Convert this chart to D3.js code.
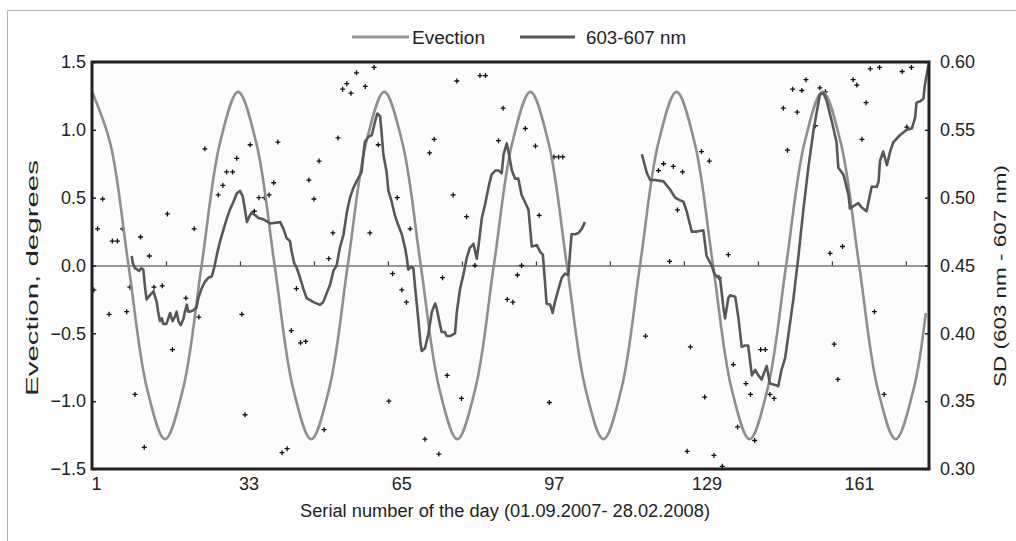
<!DOCTYPE html>
<html>
<head>
<meta charset="utf-8">
<script src="https://cdn.jsdelivr.net/npm/d3@7"></script>
<style>
  body { margin: 0; background: #fff; }
  svg { display: block; font-family: "Liberation Sans", Arial, sans-serif; }
</style>
</head>
<body>
<div id="chart"></div>
<script>
// Evection (left axis, degrees)
const evDay = [1, 4.95, 8.9, 12.85, 16.8, 20.75, 24.7, 28.65, 32.6, 36.55, 40.5, 44.45, 48.4, 52.35,
  56.3, 60.25, 64.2, 68.15, 72.1, 76.05, 80, 83.95, 87.9, 91.85, 95.8, 99.75, 103.7, 107.65,
  111.6, 115.55, 119.5, 123.45, 127.4, 131.35, 135.3, 139.25, 143.2, 147.15, 151.1, 155.05,
  159, 162.95, 166.9, 170.85, 174.8, 178.75, 181.3];
const evVal = [1.28, 0.9, 0, -0.9, -1.28, -0.9, 0, 0.9, 1.28, 0.9, 0, -0.9, -1.28, -0.9,
  0, 0.9, 1.28, 0.9, 0, -0.9, -1.28, -0.9, 0, 0.9, 1.28, 0.9, 0, -0.9,
  -1.28, -0.9, 0, 0.9, 1.28, 0.9, 0, -0.9, -1.28, -0.9, 0, 0.9,
  1.28, 0.9, 0, -0.9, -1.28, -0.9, -0.35];

// 603-607 nm SD running line (right axis), null = gap
const sdDay = [9.6, 9.8, 10.3, 11.2, 11.7, 12.1, 12.5, 12.8, 13.5, 14.3, 15.0, 15.3, 15.7, 16.1, 16.4, 17.1,
  17.9, 18.4, 18.9, 19.3, 19.7, 20.2, 20.8, 21.1, 21.5, 21.8, 22.2, 22.9, 23.6, 24.0, 24.7, 25.4,
  26.2, 26.9, 27.4, 28.0, 28.7, 29.4, 30.1, 30.8, 31.6, 32.3, 33.0, 33.6, 33.9, 34.5, 35.0, 35.5,
  36.3, 37.0, 38.1, 39.5, 41.7, 42.4, 43.1, 43.8, 44.2, 44.7, 45.3, 45.8, 46.7, 47.4, 48.9, 50.3,
  51.0, 51.8, 52.5, 53.2, 53.9, 54.6, 55.4, 56.1, 56.8, 57.5, 58.2, 59.0, 59.3, 59.7, 60.0, 60.8,
  61.5, 62.2, 62.7, 63.3, 63.6, 64.0, 64.7, 65.1, 65.8, 66.5, 67.2, 68.0, 68.7, 69.1, 69.4, 70.1,
  70.5, 70.9, 71.6, 72.0, 72.3, 73.0, 73.7, 74.5, 75.2, 75.5, 76.1, 76.6, 77.3, 77.7, 78.4, 79.5,
  79.9, 80.6, 81.3, 82.0, 82.7, 83.5, 84.2, 84.6, 85.3, 86.0, 86.7, 87.4, 88.2, 88.9, 89.6, 90.0,
  90.7, 91.0, 91.8, 92.5, 93.2, 93.9, 94.6, 95.4, 96.1, 97.2, 97.9, 98.5, 99.0, 99.3, 100.1, 100.6,
  101.1, 101.9, 102.6, 103.3, 104.0, 104.7, 105.5, 106.2, 106.9, 107.6,
  null,
  119.9, 121.0, 121.7, 122.8, 124.6, 125.3, 126.0, 127.1, 128.2, 128.9, 129.6, 130.7, 131.8, 133.2,
  133.9, 135.0, 135.7, 136.8, 137.5, 137.9, 138.6, 139.0, 140.1, 140.8, 141.5, 142.2, 142.9, 143.7,
  144.4, 145.1, 145.8, 146.9, 147.6, 148.7, 149.4, 150.1, 150.9, 151.6, 152.7, 153.8, 154.8, 155.9,
  157.0, 158.4, 159.2, 159.9, 161.0, 162.0, 162.4, 163.5, 164.6, 164.9, 166.7, 167.4, 168.5, 169.6,
  170.7, 171.1, 171.4, 172.1, 172.9, 173.6, 174.3, 175.7, 177.2, 178.3, 179.0, 179.3, 180.1, 180.8,
  181.1, 181.9];
const sdVal = [.457, .452, .448, .446, .448, .447, .433, .425, .428, .431, .423, .416, .409, .411, .407, .407,
  .415, .409, .412, .416, .409, .406, .411, .416, .421, .416, .416, .417, .419, .426, .433, .438,
  .441, .442, .448, .458, .468, .476, .484, .491, .497, .503, .505, .501, .495, .482, .486, .489,
  .487, .485, .484, .481, .482, .477, .470, .468, .460, .452, .448, .443, .433, .426, .423, .421,
  .423, .430, .436, .446, .450, .463, .473, .489, .500, .507, .512, .517, .519, .532, .541, .545,
  .546, .556, .562, .560, .549, .532, .519, .505, .497, .487, .480, .473, .463, .455, .447, .449,
  .448, .433, .409, .394, .387, .389, .399, .416, .422, .419, .409, .401, .401, .398, .398, .400,
  .416, .433, .443, .455, .463, .466, .455, .465, .485, .495, .507, .517, .520, .520, .518, .532,
  .540, .535, .520, .514, .514, .502, .497, .491, .464, .465, .460, .458, .436, .422, .421, .415,
  .423, .433, .441, .444, .443, .473, .473, .474, .477, .482,
  null,
  .532, .518, .513, .513, .512, .509, .506, .500, .498, .497, .490, .475, .475, .476,
  .457, .450, .443, .441, .420, .411, .426, .428, .427, .411, .390, .391, .391, .369,
  .373, .369, .366, .376, .363, .362, .361, .373, .382, .399, .426, .458, .490, .522,
  .549, .576, .577, .571, .556, .541, .522, .517, .502, .492, .496, .493, .490, .508,
  .508, .512, .527, .534, .524, .534, .541, .546, .550, .551, .559, .570, .571, .573,
  .583, .598];

// daily SD points (crosses, right axis)
const ptDay = [1.4, 2.2, 3.3, 4.7, 5.4, 6.5, 7.6, 8.5, 9.2, 10.3, 11.5, 12.3, 13.4, 14.4, 16.2, 17.3,
  18.4, 21.3, 23.1, 24.1, 25.4, 28.3, 29.3, 30.1, 31.4, 32.3, 33.4, 34.1, 35.2, 36.1, 37.1, 38.3,
  39.3, 40.3, 41.2, 42.1, 43.2, 44.1, 45.2, 46.1, 47.2, 47.9, 49.0, 50.1, 51.2, 52.2, 53.1, 54.2,
  55.2, 56.1, 57.0, 58.2, 60.1, 61.1, 62.0, 62.9, 65.2, 66.0, 67.0, 68.0, 69.0, 69.8, 73.0, 74.0,
  75.0, 76.0, 76.8, 77.8, 79.1, 79.9, 80.9, 82.0, 83.8, 84.9, 86.1, 88.9, 89.9, 90.8, 92.0, 93.0,
  93.9, 94.7, 96.9, 97.7, 99.9, 100.9, 101.9, 102.8, 120.7, 123.5, 124.6, 125.9, 126.7, 127.6, 128.7, 129.7,
  130.4, 132.8, 133.5, 134.5, 135.5, 136.6, 137.3, 138.6, 139.7, 140.6, 142.4, 143.4, 144.3, 145.6, 146.6, 147.6,
  148.5, 150.5, 151.4, 152.5, 153.5, 154.5, 155.4, 157.4, 158.4, 159.6, 160.6, 161.5, 162.3, 163.3, 165.6, 166.4,
  167.5, 168.4, 169.3, 170.2, 171.3, 172.3, 176.2, 177.2, 178.2];
const ptVal = [.432, .477, .499, .414, .468, .468, .477, .416, .434, .355, .471, .316, .457, .434, .435, .488,
  .388, .426, .477, .412, .536, .502, .509, .519, .519, .529, .414, .340, .539, .490, .500, .500,
  .502, .511, .541, .312, .315, .402, .433, .393, .394, .513, .499, .527, .329, .455, .474, .544,
  .580, .584, .577, .592, .582, .474, .596, .539, .350, .444, .500, .432, .423, .477, .322, .533,
  .543, .311, .441, .369, .502, .586, .352, .486, .450, .590, .590, .542, .566, .425, .423, .443,
  .450, .551, .538, .487, .349, .530, .530, .530, .398, .520, .525, .453, .523, .491, .519, .313,
  .390, .534, .353, .527, .310, .441, .302, .458, .377, .331, .363, .355, .321, .388, .388, .355,
  .352, .566, .535, .580, .563, .579, .587, .553, .581, .578, .459, .392, .366, .464, .587, .583,
  .543, .570, .595, .416, .596, .355, .593, .552, .596];

const xLabels = [1, 33, 65, 97, 129, 161];
const xTicks = [17, 33, 49, 65, 81, 97, 113, 129, 145, 161, 177];
const leftTicks = [-1.5, -1.0, -0.5, 0.0, 0.5, 1.0, 1.5];
const rightTicks = [0.30, 0.35, 0.40, 0.45, 0.50, 0.55, 0.60];
const legendNames = ["Evection", "603-607 nm"];

const W = 1016, H = 541;
const plot = { left: 92, right: 929, top: 62, bottom: 469 };
const font = "'Liberation Sans', Arial, sans-serif";

const svg = d3.select("#chart").append("svg")
  .attr("width", W).attr("height", H);

// outer chart border (top and left only visible)
svg.append("path")
  .attr("d", "M7.5," + H + "V10.5H" + W)
  .attr("fill", "none").attr("stroke", "#b0b0b0").attr("stroke-width", 1);

let x = d3.scaleLinear().domain([1, 182]).range([plot.left, plot.right]);
// category labels in the original sit slightly off their ticks
let xLab = d3.scaleLinear().domain([1, 161]).range([96, 859]);
let yL = d3.scaleLinear().domain([-1.5, 1.5]).range([plot.bottom, plot.top]);
let yR = d3.scaleLinear().domain([0.30, 0.60]).range([plot.bottom, plot.top]);

svg.append("rect")
  .attr("x", plot.left).attr("y", plot.top)
  .attr("width", plot.right - plot.left).attr("height", plot.bottom - plot.top)
  .attr("fill", "#fcfcfc");

// zero line with small ticks
svg.append("g")
  .attr("transform", "translate(0," + yL(0) + ")")
  .call(d3.axisBottom(x).tickValues(xTicks).tickSizeInner(-4).tickSizeOuter(0).tickFormat(""))
  .call(g => g.selectAll("path,line").attr("stroke", "#333").attr("stroke-width", 1.2));

// scatter crosses
const pts = ptDay.map((d, i) => ({ day: d, v: ptVal[i] }));
svg.append("g").selectAll("path")
  .data(pts)
  .enter()
  .append("path")
  .attr("transform", d => "translate(" + x(d.day) + "," + yR(d.v) + ")")
  .attr("d", "M-2.5,0H2.5M0,-2.5V2.5")
  .attr("stroke", "#111").attr("stroke-width", 1.3);

// evection curve
const ev = evDay.map((d, i) => ({ day: d, v: evVal[i] }));
let lineEv = d3.line()
  .x(d => x(d.day))
  .y(d => yL(d.v))
  .curve(d3.curveCatmullRom.alpha(0.5));
svg.append("path")
  .datum(ev)
  .attr("d", lineEv)
  .attr("fill", "none").attr("stroke", "#8f8f8f").attr("stroke-width", 2.6);

// SD running line
const sd = sdDay.map((d, i) => ({ day: d, v: sdVal[i] }));
let lineSd = d3.line()
  .defined(d => d.day !== null)
  .x(d => x(d.day))
  .y(d => yR(d.v));
svg.append("path")
  .datum(sd)
  .attr("d", lineSd)
  .attr("fill", "none").attr("stroke", "#585858").attr("stroke-width", 2.6)
  .attr("stroke-linejoin", "round");

// plot frame
svg.append("rect")
  .attr("x", plot.left).attr("y", plot.top)
  .attr("width", plot.right - plot.left).attr("height", plot.bottom - plot.top)
  .attr("fill", "none").attr("stroke", "#222").attr("stroke-width", 3);

// left axis
svg.append("g")
  .attr("transform", "translate(" + plot.left + ",0)")
  .call(d3.axisLeft(yL).tickValues(leftTicks).tickSizeInner(-4).tickSizeOuter(0).tickPadding(6)
    .tickFormat(d3.format(".1f")))
  .call(g => g.select(".domain").remove())
  .call(g => g.selectAll("line").attr("stroke", "#222").attr("stroke-width", 1.5))
  .call(g => g.selectAll("text").attr("font-size", 18).attr("fill", "#222").attr("font-family", font));

// right axis
svg.append("g")
  .attr("transform", "translate(" + plot.right + ",0)")
  .call(d3.axisRight(yR).tickValues(rightTicks).tickSizeInner(-4).tickSizeOuter(0).tickPadding(11)
    .tickFormat(d3.format(".2f")))
  .call(g => g.select(".domain").remove())
  .call(g => g.selectAll("line").attr("stroke", "#222").attr("stroke-width", 1.5))
  .call(g => g.selectAll("text").attr("font-size", 18).attr("fill", "#222").attr("font-family", font));

// bottom labels
svg.append("g")
  .attr("transform", "translate(0," + plot.bottom + ")")
  .call(d3.axisBottom(xLab).tickValues(xLabels).tickSize(0).tickPadding(8).tickFormat(d3.format("d")))
  .call(g => g.select(".domain").remove())
  .call(g => g.selectAll("text").attr("font-size", 18).attr("fill", "#222").attr("font-family", font));

// axis titles
svg.append("text")
  .attr("x", 505).attr("y", 517)
  .attr("text-anchor", "middle").attr("font-size", 18).attr("fill", "#222")
  .attr("textLength", 410).attr("lengthAdjust", "spacingAndGlyphs")
  .text("Serial number of the day (01.09.2007- 28.02.2008)");

svg.append("text")
  .attr("transform", "translate(38,278) rotate(-90)")
  .attr("text-anchor", "middle").attr("font-size", 17).attr("fill", "#222")
  .attr("textLength", 236).attr("lengthAdjust", "spacingAndGlyphs")
  .text("Evection, degrees");

svg.append("text")
  .attr("transform", "translate(1006,276) rotate(-90)")
  .attr("text-anchor", "middle").attr("font-size", 17).attr("fill", "#222")
  .attr("textLength", 222).attr("lengthAdjust", "spacingAndGlyphs")
  .text("SD (603 nm - 607 nm)");

// legend
const legendColors = ["#969696", "#585858"];
const legendX = [352, 520];
const legendTextX = [60, 66];
const legendTextLen = [73, 100];
const lg = svg.append("g").selectAll("g")
  .data(legendNames)
  .enter()
  .append("g")
  .attr("transform", (d, i) => "translate(" + legendX[i] + ",37)");
lg.append("line")
  .attr("x1", 0).attr("x2", (d, i) => i === 0 ? 57 : 55)
  .attr("stroke", (d, i) => legendColors[i]).attr("stroke-width", 3);
lg.append("text")
  .attr("x", (d, i) => legendTextX[i]).attr("y", 7)
  .attr("font-size", 18).attr("fill", "#222")
  .attr("textLength", (d, i) => legendTextLen[i]).attr("lengthAdjust", "spacingAndGlyphs")
  .text(d => d);
</script>
</body>
</html>
